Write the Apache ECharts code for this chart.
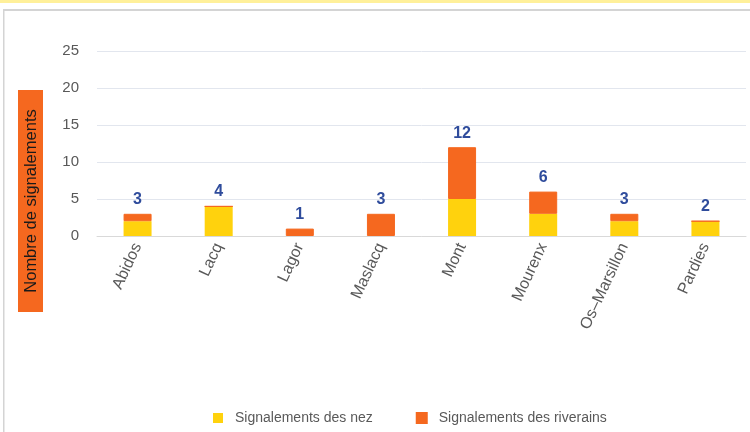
<!DOCTYPE html>
<html>
<head>
<meta charset="utf-8">
<script src="https://cdn.jsdelivr.net/npm/echarts@6/dist/echarts.min.js"></script>
<style>
html,body{margin:0;padding:0;background:#fff;}
#c{width:750px;height:432px;}
</style>
</head>
<body>
<div id="c"></div>
<script>
var categories = ['Abidos','Lacq','Lagor','Maslacq','Mont','Mourenx','Os–Marsillon','Pardies'];
var nez = [2, 4, 0, 0, 5, 3, 2, 2];
var riverains = [1, 0, 1, 3, 7, 3, 1, 0];
var yTicks = [0, 5, 10, 15, 20, 25];

var totals = categories.map(function (c, i) { return nez[i] + riverains[i]; });
var FONT = '"Liberation Sans", Arial, sans-serif';
var YELLOW = '#ffd20d';
var ORANGE = '#f5681f';

var chart = echarts.init(document.getElementById('c'), null, {renderer: 'canvas'});
chart.setOption({
  backgroundColor: '#ffffff',
  animation: false,
  textStyle: {fontFamily: FONT},
  grid: {left: 97, right: 4, top: 51, bottom: 196, containLabel: false},
  legend: {
    left: 208, top: 406,
    itemWidth: 10, itemHeight: 10, itemGap: 43,
    icon: 'rect',
    textStyle: {fontSize: 14, color: '#595959', fontFamily: FONT, padding: [0, 0, 0, 7]},
    data: ['Signalements des nez', 'Signalements des riverains']
  },
  xAxis: {
    type: 'category',
    data: categories,
    axisLine: {lineStyle: {color: '#d9d9d9', width: 1}},
    axisTick: {show: false},
    axisLabel: {interval: 0, rotate: 65, margin: 8, fontSize: 16, color: '#595959', fontFamily: FONT}
  },
  yAxis: {
    type: 'value',
    min: yTicks[0], max: yTicks[yTicks.length - 1], interval: yTicks[1] - yTicks[0],
    axisLine: {show: false},
    axisTick: {show: false},
    axisLabel: {margin: 18, fontSize: 15, color: '#595959', fontFamily: FONT},
    splitLine: {lineStyle: {color: '#e2e6ee', width: 1}}
  },
  series: [
    {
      name: 'Signalements des nez', type: 'bar', stack: 's', barWidth: 28,
      itemStyle: {color: YELLOW},
      data: nez
    },
    {
      name: 'Signalements des riverains', type: 'bar', stack: 's', barWidth: 28,
      itemStyle: {color: ORANGE, borderColor: ORANGE, borderWidth: 1},
      label: {
        show: true, position: 'top', distance: 6,
        fontSize: 16, fontWeight: 'bold', color: '#2f4c9c', fontFamily: FONT,
        formatter: function (p) { return totals[p.dataIndex]; }
      },
      data: riverains
    }
  ],
  graphic: [
    {type: 'rect', left: 0, top: 0, shape: {width: 750, height: 3}, style: {fill: '#fff09a'}, silent: true},
    {type: 'rect', left: 3, top: 9, shape: {width: 747, height: 2}, style: {fill: '#d4d4d4'}, silent: true},
    {type: 'rect', left: 3, top: 9, shape: {width: 1.5, height: 423}, style: {fill: '#d4d4d4'}, silent: true},
    {type: 'rect', left: 18, top: 90, shape: {width: 25, height: 222}, style: {fill: ORANGE}, silent: true},
    {
      type: 'text', x: 31, y: 201, rotation: Math.PI / 2, silent: true,
      style: {text: 'Nombre de signalements', font: '16.5px ' + FONT, fill: '#1a1a1a', textAlign: 'center', textVerticalAlign: 'middle'}
    }
  ]
});
</script>
</body>
</html>
